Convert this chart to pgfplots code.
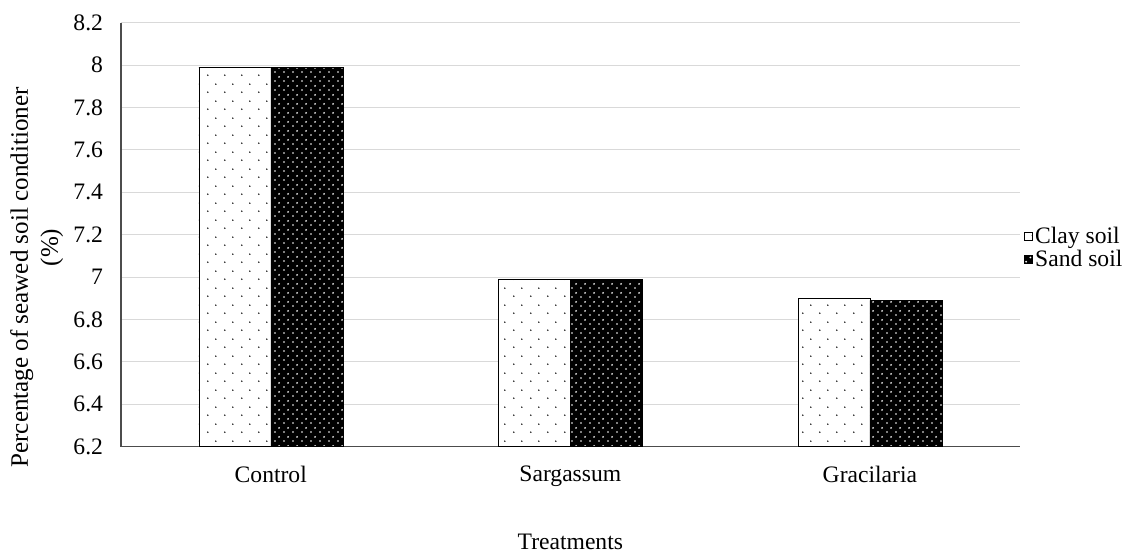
\documentclass[border=0pt]{standalone}
\usepackage{fontspec}
\setmainfont{Liberation Serif}
\usepackage{pgfplots}
\pgfplotsset{compat=1.18}
\usetikzlibrary{patterns.meta}
\pgfdeclarepattern{name=claydots, type=uncolored,
  bottom left={\pgfpoint{0pt}{0pt}}, top right={\pgfpoint{12.75pt}{12.75pt}},
  tile size={\pgfpoint{12.75pt}{12.75pt}},
  code={\pgfpathcircle{\pgfpoint{3pt}{3pt}}{0.65pt}\pgfpathcircle{\pgfpoint{9.375pt}{9.375pt}}{0.65pt}\pgfusepath{fill}}}
\pgfdeclarepattern{name=sanddots, type=uncolored,
  bottom left={\pgfpoint{0pt}{0pt}}, top right={\pgfpoint{6.4pt}{6.4pt}},
  tile size={\pgfpoint{6.4pt}{6.4pt}},
  code={\pgfpathcircle{\pgfpoint{1.6pt}{1.6pt}}{0.75pt}\pgfpathcircle{\pgfpoint{4.8pt}{4.8pt}}{0.75pt}\pgfusepath{fill}}}
\begin{document}
\begin{tikzpicture}
\useasboundingbox (0,0) rectangle (852.75pt,415.5pt);
\begin{axis}[
  at={(90.75pt,80.5pt)}, anchor=south west,
  scale only axis, width=674pt, height=318pt,
  xmin=-0.5, xmax=2.5, ymin=6.2, ymax=8.2,
  ybar, bar width=54pt, bar shift auto={0pt},
  xtick={0,1,2}, xticklabels={Control,Sargassum,Gracilaria},
  ytick={6.2,6.4,...,8.2},
  yticklabels={6.2,6.4,6.6,6.8,7,7.2,7.4,7.6,7.8,8,8.2},
  major tick length=0pt,
  tick label style={font=\fontsize{17.7}{20}\selectfont},
  /pgf/number format/assume math mode=true,
  axis x line*=bottom, axis y line*=left,
  axis line style={draw=black!70, line width=0.8pt},
  ymajorgrids, grid style={draw=black!15, line width=0.8pt},
  xlabel={Treatments}, ylabel={Percentage of seawed soil conditioner\\\hspace*{45pt}(\%)},
  ylabel style={align=center, font=\fontsize{18.8}{22.5}\selectfont, at={(-0.059,0.399)}},
  xlabel style={font=\fontsize{17.7}{20}\selectfont, at={(0.5,-0.194)}},
  xticklabel style={yshift=-11pt},
  yticklabel style={xshift=-10pt},
  legend style={draw=none, at={(1.003,0.47)}, anchor=west, font=\fontsize{17.7}{20}\selectfont, row sep=-0.5pt, fill=none, inner sep=1pt},
  legend cell align=left,
  legend image code/.code={\draw[#1, line width=0.4pt] (0pt,-3pt) rectangle (6pt,3pt);},
]
\addplot[draw=black, line width=0.4pt, fill=white, postaction={pattern={claydots}, pattern color=black}, bar shift=-27pt]
  coordinates {(0,7.99) (1,6.99) (2,6.90)};
\addplot[draw=black, line width=0.4pt, fill=black, postaction={pattern={sanddots}, pattern color=white}, bar shift=27pt]
  coordinates {(0,7.99) (1,6.99) (2,6.89)};
\legend{Clay soil, Sand soil}
\end{axis}
\end{tikzpicture}
\end{document}
